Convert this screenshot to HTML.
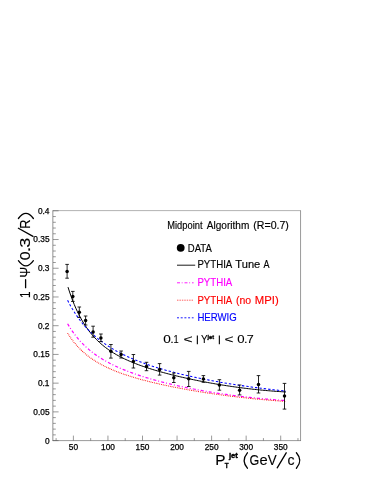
<!DOCTYPE html>
<html><head><meta charset="utf-8"><title>chart</title>
<style>html,body{margin:0;padding:0;background:#fff;}body{width:382px;height:494px;overflow:hidden;font-family:"Liberation Sans",sans-serif;}svg{display:block;will-change:transform;}</style>
</head><body>
<svg width="382" height="494" viewBox="0 0 382 494" font-family="Liberation Sans, sans-serif">
<rect x="0" y="0" width="382" height="494" fill="#fff"/>
<path d="M52.85 210.60000000000002V440.90000000000003" stroke="#555" stroke-width="0.65"/>
<path d="M300.55 210.60000000000002V440.90000000000003" stroke="#555" stroke-width="0.6"/>
<path d="M52.5 210.6H300.85" stroke="#555" stroke-width="0.45"/>
<path d="M52.5 440.6H300.85" stroke="#555" stroke-width="0.6"/>
<path d="M53.0 440.60h5.6M53.0 434.86h2.8M53.0 429.11h2.8M53.0 423.37h2.8M53.0 417.62h2.8M53.0 411.88h5.6M53.0 406.13h2.8M53.0 400.38h2.8M53.0 394.64h2.8M53.0 388.90h2.8M53.0 383.15h5.6M53.0 377.41h2.8M53.0 371.66h2.8M53.0 365.92h2.8M53.0 360.17h2.8M53.0 354.43h5.6M53.0 348.68h2.8M53.0 342.94h2.8M53.0 337.19h2.8M53.0 331.45h2.8M53.0 325.70h5.6M53.0 319.96h2.8M53.0 314.21h2.8M53.0 308.47h2.8M53.0 302.72h2.8M53.0 296.98h5.6M53.0 291.23h2.8M53.0 285.49h2.8M53.0 279.74h2.8M53.0 274.00h2.8M53.0 268.25h5.6M53.0 262.50h2.8M53.0 256.76h2.8M53.0 251.02h2.8M53.0 245.27h2.8M53.0 239.53h5.6M53.0 233.78h2.8M53.0 228.04h2.8M53.0 222.29h2.8M53.0 216.55h2.8M53.0 210.80h5.6M56.12 440.6v-2.5M73.40 440.6v-5.0M90.67 440.6v-2.5M107.95 440.6v-5.0M125.22 440.6v-2.5M142.50 440.6v-5.0M159.78 440.6v-2.5M177.05 440.6v-5.0M194.32 440.6v-2.5M211.60 440.6v-5.0M228.87 440.6v-2.5M246.15 440.6v-5.0M263.43 440.6v-2.5M280.70 440.6v-5.0M297.98 440.6v-2.5" stroke="#555" stroke-width="0.6" fill="none"/>
<g font-size="8.3" fill="#000" stroke="#000" stroke-width="0.25">
<text x="49.5" y="443.50" text-anchor="end">0</text>
<text x="49.5" y="414.77" text-anchor="end">0.05</text>
<text x="49.5" y="386.05" text-anchor="end">0.1</text>
<text x="49.5" y="357.32" text-anchor="end">0.15</text>
<text x="49.5" y="328.60" text-anchor="end">0.2</text>
<text x="49.5" y="299.88" text-anchor="end">0.25</text>
<text x="49.5" y="271.15" text-anchor="end">0.3</text>
<text x="49.5" y="242.43" text-anchor="end">0.35</text>
<text x="49.5" y="213.70" text-anchor="end">0.4</text>
<text x="73.40" y="449.9" text-anchor="middle">50</text>
<text x="107.95" y="449.9" text-anchor="middle">100</text>
<text x="142.50" y="449.9" text-anchor="middle">150</text>
<text x="177.05" y="449.9" text-anchor="middle">200</text>
<text x="211.60" y="449.9" text-anchor="middle">250</text>
<text x="246.15" y="449.9" text-anchor="middle">300</text>
<text x="280.70" y="449.9" text-anchor="middle">350</text>
</g>
<path d="M67.60 323.71 L69.17 326.35 L70.74 328.83 L72.31 331.18 L73.88 333.39 L75.46 335.47 L77.03 337.45 L78.60 339.32 L80.17 341.09 L81.74 342.78 L83.31 344.39 L84.88 345.92 L86.45 347.38 L88.03 348.77 L89.60 350.10 L91.17 351.38 L92.74 352.60 L94.31 353.78 L95.88 354.91 L97.45 355.99 L99.02 357.04 L100.60 358.04 L102.17 359.02 L103.74 359.96 L105.31 360.86 L106.88 361.74 L108.45 362.59 L110.02 363.42 L111.59 364.22 L113.17 364.99 L114.74 365.75 L116.31 366.48 L117.88 367.19 L119.45 367.89 L121.02 368.57 L122.59 369.23 L124.16 369.87 L125.74 370.50 L127.31 371.12 L128.88 371.72 L130.45 372.31 L132.02 372.88 L133.59 373.44 L135.16 374.00 L136.73 374.54 L138.31 375.06 L139.88 375.58 L141.45 376.09 L143.02 376.59 L144.59 377.08 L146.16 377.57 L147.73 378.04 L149.30 378.51 L150.87 378.96 L152.45 379.41 L154.02 379.85 L155.59 380.29 L157.16 380.72 L158.73 381.14 L160.30 381.55 L161.87 381.96 L163.44 382.36 L165.02 382.76 L166.59 383.15 L168.16 383.53 L169.73 383.91 L171.30 384.28 L172.87 384.65 L174.44 385.01 L176.01 385.37 L177.59 385.72 L179.16 386.07 L180.73 386.41 L182.30 386.75 L183.87 387.08 L185.44 387.41 L187.01 387.73 L188.58 388.05 L190.16 388.36 L191.73 388.67 L193.30 388.98 L194.87 389.28 L196.44 389.57 L198.01 389.87 L199.58 390.15 L201.15 390.44 L202.73 390.72 L204.30 390.99 L205.87 391.27 L207.44 391.53 L209.01 391.80 L210.58 392.06 L212.15 392.32 L213.72 392.57 L215.29 392.82 L216.87 393.07 L218.44 393.31 L220.01 393.55 L221.58 393.78 L223.15 394.01 L224.72 394.24 L226.29 394.46 L227.86 394.68 L229.44 394.90 L231.01 395.12 L232.58 395.33 L234.15 395.53 L235.72 395.74 L237.29 395.94 L238.86 396.13 L240.43 396.33 L242.01 396.52 L243.58 396.70 L245.15 396.89 L246.72 397.07 L248.29 397.24 L249.86 397.42 L251.43 397.59 L253.00 397.76 L254.58 397.92 L256.15 398.08 L257.72 398.24 L259.29 398.39 L260.86 398.54 L262.43 398.69 L264.00 398.84 L265.57 398.98 L267.15 399.12 L268.72 399.25 L270.29 399.39 L271.86 399.52 L273.43 399.64 L275.00 399.77 L276.57 399.89 L278.14 400.00 L279.72 400.12 L281.29 400.23 L282.86 400.34 L284.43 400.44 L286.00 400.55" fill="none" stroke="#ff00ff" stroke-width="1.2" stroke-dasharray="3.1 1.9 1.0 2.1"/>
<path d="M67.60 333.14 L69.17 335.59 L70.74 337.90 L72.31 340.06 L73.88 342.09 L75.46 344.00 L77.03 345.80 L78.60 347.50 L80.17 349.11 L81.74 350.64 L83.31 352.08 L84.88 353.46 L86.45 354.76 L88.03 356.00 L89.60 357.19 L91.17 358.32 L92.74 359.40 L94.31 360.43 L95.88 361.42 L97.45 362.37 L99.02 363.29 L100.60 364.16 L102.17 365.01 L103.74 365.82 L105.31 366.60 L106.88 367.36 L108.45 368.09 L110.02 368.80 L111.59 369.49 L113.17 370.15 L114.74 370.80 L116.31 371.42 L117.88 372.03 L119.45 372.63 L121.02 373.20 L122.59 373.76 L124.16 374.31 L125.74 374.85 L127.31 375.37 L128.88 375.88 L130.45 376.37 L132.02 376.86 L133.59 377.34 L135.16 377.80 L136.73 378.26 L138.31 378.71 L139.88 379.15 L141.45 379.58 L143.02 380.01 L144.59 380.42 L146.16 380.83 L147.73 381.23 L149.30 381.63 L150.87 382.02 L152.45 382.40 L154.02 382.78 L155.59 383.15 L157.16 383.51 L158.73 383.87 L160.30 384.23 L161.87 384.58 L163.44 384.92 L165.02 385.26 L166.59 385.60 L168.16 385.93 L169.73 386.25 L171.30 386.57 L172.87 386.89 L174.44 387.20 L176.01 387.51 L177.59 387.82 L179.16 388.12 L180.73 388.42 L182.30 388.71 L183.87 389.00 L185.44 389.29 L187.01 389.57 L188.58 389.85 L190.16 390.12 L191.73 390.39 L193.30 390.66 L194.87 390.93 L196.44 391.19 L198.01 391.45 L199.58 391.71 L201.15 391.96 L202.73 392.21 L204.30 392.46 L205.87 392.70 L207.44 392.94 L209.01 393.18 L210.58 393.41 L212.15 393.64 L213.72 393.87 L215.29 394.10 L216.87 394.32 L218.44 394.54 L220.01 394.76 L221.58 394.97 L223.15 395.18 L224.72 395.39 L226.29 395.60 L227.86 395.80 L229.44 396.00 L231.01 396.20 L232.58 396.39 L234.15 396.58 L235.72 396.77 L237.29 396.96 L238.86 397.14 L240.43 397.32 L242.01 397.50 L243.58 397.68 L245.15 397.85 L246.72 398.02 L248.29 398.19 L249.86 398.35 L251.43 398.52 L253.00 398.68 L254.58 398.83 L256.15 398.99 L257.72 399.14 L259.29 399.29 L260.86 399.44 L262.43 399.58 L264.00 399.72 L265.57 399.86 L267.15 400.00 L268.72 400.13 L270.29 400.26 L271.86 400.39 L273.43 400.52 L275.00 400.64 L276.57 400.76 L278.14 400.88 L279.72 401.00 L281.29 401.11 L282.86 401.22 L284.43 401.33 L286.00 401.44" fill="none" stroke="#ff0000" stroke-width="1.05" stroke-dasharray="0.8 1.0"/>
<path d="M68.00 287.11 L69.57 291.96 L71.14 296.46 L72.71 300.65 L74.27 304.56 L75.84 308.20 L77.41 311.60 L78.98 314.77 L80.55 317.75 L82.12 320.54 L83.68 323.15 L85.25 325.61 L86.82 327.92 L88.39 330.10 L89.96 332.15 L91.53 334.09 L93.09 335.92 L94.66 337.65 L96.23 339.30 L97.80 340.85 L99.37 342.33 L100.94 343.74 L102.50 345.08 L104.07 346.36 L105.64 347.58 L107.21 348.74 L108.78 349.85 L110.35 350.92 L111.91 351.94 L113.48 352.92 L115.05 353.87 L116.62 354.77 L118.19 355.65 L119.76 356.49 L121.32 357.30 L122.89 358.09 L124.46 358.85 L126.03 359.59 L127.60 360.30 L129.17 360.99 L130.73 361.66 L132.30 362.32 L133.87 362.95 L135.44 363.57 L137.01 364.17 L138.58 364.76 L140.14 365.34 L141.71 365.90 L143.28 366.44 L144.85 366.98 L146.42 367.50 L147.99 368.02 L149.55 368.52 L151.12 369.01 L152.69 369.50 L154.26 369.97 L155.83 370.44 L157.40 370.90 L158.96 371.35 L160.53 371.79 L162.10 372.23 L163.67 372.65 L165.24 373.08 L166.81 373.49 L168.37 373.90 L169.94 374.30 L171.51 374.70 L173.08 375.09 L174.65 375.48 L176.22 375.86 L177.78 376.24 L179.35 376.61 L180.92 376.97 L182.49 377.33 L184.06 377.69 L185.63 378.04 L187.19 378.39 L188.76 378.73 L190.33 379.06 L191.90 379.40 L193.47 379.73 L195.04 380.05 L196.60 380.37 L198.17 380.69 L199.74 381.00 L201.31 381.30 L202.88 381.61 L204.45 381.91 L206.01 382.20 L207.58 382.49 L209.15 382.78 L210.72 383.06 L212.29 383.34 L213.86 383.62 L215.42 383.89 L216.99 384.16 L218.56 384.42 L220.13 384.68 L221.70 384.93 L223.27 385.19 L224.83 385.43 L226.40 385.68 L227.97 385.92 L229.54 386.15 L231.11 386.39 L232.68 386.61 L234.24 386.84 L235.81 387.06 L237.38 387.27 L238.95 387.49 L240.52 387.69 L242.09 387.90 L243.65 388.10 L245.22 388.30 L246.79 388.49 L248.36 388.68 L249.93 388.86 L251.50 389.04 L253.06 389.22 L254.63 389.39 L256.20 389.56 L257.77 389.72 L259.34 389.88 L260.91 390.04 L262.47 390.19 L264.04 390.34 L265.61 390.48 L267.18 390.62 L268.75 390.76 L270.32 390.89 L271.88 391.02 L273.45 391.14 L275.02 391.26 L276.59 391.38 L278.16 391.49 L279.73 391.59 L281.29 391.70 L282.86 391.79 L284.43 391.89 L286.00 391.98" fill="none" stroke="#000" stroke-width="1.0"/>
<path d="M67.60 300.26 L69.17 303.28 L70.74 306.14 L72.31 308.84 L73.88 311.40 L75.46 313.84 L77.03 316.15 L78.60 318.35 L80.17 320.44 L81.74 322.44 L83.31 324.35 L84.88 326.17 L86.45 327.92 L88.03 329.59 L89.60 331.19 L91.17 332.72 L92.74 334.19 L94.31 335.61 L95.88 336.97 L97.45 338.29 L99.02 339.55 L100.60 340.77 L102.17 341.95 L103.74 343.08 L105.31 344.18 L106.88 345.24 L108.45 346.27 L110.02 347.27 L111.59 348.23 L113.17 349.17 L114.74 350.08 L116.31 350.96 L117.88 351.82 L119.45 352.65 L121.02 353.46 L122.59 354.25 L124.16 355.02 L125.74 355.77 L127.31 356.49 L128.88 357.21 L130.45 357.90 L132.02 358.58 L133.59 359.24 L135.16 359.89 L136.73 360.52 L138.31 361.14 L139.88 361.75 L141.45 362.34 L143.02 362.92 L144.59 363.49 L146.16 364.05 L147.73 364.59 L149.30 365.13 L150.87 365.65 L152.45 366.17 L154.02 366.67 L155.59 367.17 L157.16 367.66 L158.73 368.14 L160.30 368.61 L161.87 369.07 L163.44 369.52 L165.02 369.97 L166.59 370.41 L168.16 370.84 L169.73 371.27 L171.30 371.69 L172.87 372.10 L174.44 372.51 L176.01 372.91 L177.59 373.30 L179.16 373.69 L180.73 374.07 L182.30 374.45 L183.87 374.82 L185.44 375.19 L187.01 375.55 L188.58 375.91 L190.16 376.26 L191.73 376.60 L193.30 376.95 L194.87 377.28 L196.44 377.62 L198.01 377.94 L199.58 378.27 L201.15 378.59 L202.73 378.90 L204.30 379.21 L205.87 379.52 L207.44 379.83 L209.01 380.13 L210.58 380.42 L212.15 380.71 L213.72 381.00 L215.29 381.29 L216.87 381.57 L218.44 381.85 L220.01 382.12 L221.58 382.40 L223.15 382.66 L224.72 382.93 L226.29 383.19 L227.86 383.45 L229.44 383.71 L231.01 383.96 L232.58 384.21 L234.15 384.45 L235.72 384.70 L237.29 384.94 L238.86 385.18 L240.43 385.41 L242.01 385.64 L243.58 385.87 L245.15 386.10 L246.72 386.33 L248.29 386.55 L249.86 386.77 L251.43 386.98 L253.00 387.20 L254.58 387.41 L256.15 387.62 L257.72 387.82 L259.29 388.03 L260.86 388.23 L262.43 388.43 L264.00 388.62 L265.57 388.82 L267.15 389.01 L268.72 389.20 L270.29 389.39 L271.86 389.57 L273.43 389.76 L275.00 389.94 L276.57 390.11 L278.14 390.29 L279.72 390.46 L281.29 390.64 L282.86 390.81 L284.43 390.97 L286.00 391.14" fill="none" stroke="#0000ff" stroke-width="1.05" stroke-dasharray="2.4 2.0"/>
<path d="M67.10 264.40V278.20M65.30 264.40h3.6M65.30 278.20h3.6M72.80 291.40V301.40M71.00 291.40h3.6M71.00 301.40h3.6M79.30 307.00V317.50M77.50 307.00h3.6M77.50 317.50h3.6M85.60 316.00V325.00M83.80 316.00h3.6M83.80 325.00h3.6M93.10 326.20V337.20M91.30 326.20h3.6M91.30 337.20h3.6M100.90 334.00V341.60M99.10 334.00h3.6M99.10 341.60h3.6M110.90 344.50V358.10M109.10 344.50h3.6M109.10 358.10h3.6M121.10 351.00V358.00M119.30 351.00h3.6M119.30 358.00h3.6M133.40 354.50V368.00M131.60 354.50h3.6M131.60 368.00h3.6M146.50 362.30V370.70M144.70 362.30h3.6M144.70 370.70h3.6M159.60 363.60V375.10M157.80 363.60h3.6M157.80 375.10h3.6M173.80 373.00V382.50M172.00 373.00h3.6M172.00 382.50h3.6M188.70 371.40V386.50M186.90 371.40h3.6M186.90 386.50h3.6M203.40 375.60V382.30M201.60 375.60h3.6M201.60 382.30h3.6M219.40 379.70V390.20M217.60 379.70h3.6M217.60 390.20h3.6M239.60 385.00V394.90M237.80 385.00h3.6M237.80 394.90h3.6M258.50 375.60V393.00M256.70 375.60h3.6M256.70 393.00h3.6M284.50 383.40V409.10M282.70 383.40h3.6M282.70 409.10h3.6" stroke="#000" stroke-width="0.85" fill="none"/>
<circle cx="67.10" cy="271.40" r="1.75" fill="#000"/>
<circle cx="72.80" cy="296.40" r="1.75" fill="#000"/>
<circle cx="79.30" cy="312.30" r="1.75" fill="#000"/>
<circle cx="85.60" cy="320.40" r="1.75" fill="#000"/>
<circle cx="93.10" cy="331.90" r="1.75" fill="#000"/>
<circle cx="100.90" cy="338.00" r="1.75" fill="#000"/>
<circle cx="110.90" cy="351.30" r="1.75" fill="#000"/>
<circle cx="121.10" cy="354.50" r="1.75" fill="#000"/>
<circle cx="133.40" cy="361.50" r="1.75" fill="#000"/>
<circle cx="146.50" cy="366.50" r="1.75" fill="#000"/>
<circle cx="159.60" cy="369.40" r="1.75" fill="#000"/>
<circle cx="173.80" cy="377.70" r="1.75" fill="#000"/>
<circle cx="188.70" cy="378.70" r="1.75" fill="#000"/>
<circle cx="203.40" cy="379.00" r="1.75" fill="#000"/>
<circle cx="219.40" cy="384.90" r="1.75" fill="#000"/>
<circle cx="239.60" cy="390.30" r="1.75" fill="#000"/>
<circle cx="258.50" cy="384.40" r="1.75" fill="#000"/>
<circle cx="284.50" cy="396.10" r="1.75" fill="#000"/>
<g font-size="10.2">
<text x="167.3" y="228.8" font-size="10.2" fill="#000" stroke="#000" stroke-width="0.15" textLength="35.2" lengthAdjust="spacingAndGlyphs">Midpoint</text>
<text x="206.8" y="228.8" font-size="10.2" fill="#000" stroke="#000" stroke-width="0.15" textLength="42.5" lengthAdjust="spacingAndGlyphs">Algorithm</text>
<text x="253.3" y="228.8" font-size="10.2" fill="#000" stroke="#000" stroke-width="0.15" textLength="35.6" lengthAdjust="spacingAndGlyphs">(R=0.7)</text>
<circle cx="180.7" cy="247.8" r="3.9" fill="#000"/>
<text x="187.8" y="251.7" font-size="10.8" fill="#000" stroke="#000" stroke-width="0.15" textLength="24" lengthAdjust="spacingAndGlyphs">DATA</text>
<path d="M177 265.2H195.2" stroke="#000" stroke-width="0.9"/>
<text x="197.4" y="268.3" font-size="10.8" fill="#000" stroke="#000" stroke-width="0.15" textLength="34.9" lengthAdjust="spacingAndGlyphs">PYTHIA</text>
<text x="235.3" y="268.3" font-size="10.8" fill="#000" stroke="#000" stroke-width="0.15" textLength="25.0" lengthAdjust="spacingAndGlyphs">Tune</text>
<text x="263.6" y="268.3" font-size="10.8" fill="#000" stroke="#000" stroke-width="0.15" textLength="6.0" lengthAdjust="spacingAndGlyphs">A</text>
<path d="M177 282.8H193.6" stroke="#ff00ff" stroke-width="0.9" stroke-dasharray="3 1.7 0.9 1.9"/>
<text x="197.4" y="286.0" font-size="10.8" fill="#ff00ff" stroke="#ff00ff" stroke-width="0.15" textLength="34.9" lengthAdjust="spacingAndGlyphs">PYTHIA</text>
<path d="M177 300.2H193.6" stroke="#ff0000" stroke-width="0.9" stroke-dasharray="0.7 1.0"/>
<text x="197.4" y="303.9" font-size="10.8" fill="#ff0000" stroke="#ff0000" stroke-width="0.15" textLength="34.9" lengthAdjust="spacingAndGlyphs">PYTHIA</text>
<text x="235.9" y="303.9" font-size="10.8" fill="#ff0000" stroke="#ff0000" stroke-width="0.15" textLength="15.2" lengthAdjust="spacingAndGlyphs">(no</text>
<text x="254.8" y="303.9" font-size="10.8" fill="#ff0000" stroke="#ff0000" stroke-width="0.15" textLength="23.9" lengthAdjust="spacingAndGlyphs">MPI)</text>
<path d="M177 317.8H193.6" stroke="#0000ff" stroke-width="0.9" stroke-dasharray="2.0 1.7"/>
<text x="197.4" y="321.2" font-size="10.8" fill="#0000ff" stroke="#0000ff" stroke-width="0.15" textLength="39.4" lengthAdjust="spacingAndGlyphs">HERWIG</text>
</g>
<g>
<text transform="translate(163.17 343.30) scale(1.271 1)" font-size="10.7" fill="#000" stroke="#000" stroke-width="0.1">0</text>
<text transform="translate(170.25 343.30) scale(1.178 1)" font-size="10.7" fill="#000" stroke="#000" stroke-width="0.1">.</text>
<text transform="translate(173.39 343.30) scale(0.867 1)" font-size="10.7" fill="#000" stroke="#000" stroke-width="0.1">1</text>
<text transform="translate(183.44 343.30) scale(1.443 1)" font-size="10.7" fill="#000" stroke="#000" stroke-width="0.1">&lt;</text>
<path d="M197.35 335.5V344.3M219.35 335.5V344.3" stroke="#000" stroke-width="1.1"/>
<text transform="translate(200.98 343.30) scale(0.930 1)" font-size="10.7" fill="#000" stroke="#000" stroke-width="0.1">Y</text>
<text x="207.6" y="339.0" font-size="5.2" font-weight="bold" stroke="#000" stroke-width="0.3" textLength="6.4" lengthAdjust="spacingAndGlyphs">jet</text>
<text transform="translate(224.55 343.30) scale(1.423 1)" font-size="10.7" fill="#000" stroke="#000" stroke-width="0.1">&lt;</text>
<text transform="translate(237.19 343.30) scale(1.232 1)" font-size="10.7" fill="#000" stroke="#000" stroke-width="0.1">0</text>
<text transform="translate(244.05 343.30) scale(1.178 1)" font-size="10.7" fill="#000" stroke="#000" stroke-width="0.1">.</text>
<text transform="translate(246.86 343.30) scale(1.172 1)" font-size="10.7" fill="#000" stroke="#000" stroke-width="0.1">7</text>
</g>
<g>
<text transform="translate(215.24 464.70) scale(1.007 1)" font-size="15.3" fill="#000" stroke="#000" stroke-width="0.12">P</text>
<text transform="translate(224.73 467.70) scale(0.898 1)" font-size="7.0" font-weight="bold" fill="#000" stroke="#000" stroke-width="0.35">T</text>
<text x="228.9" y="458.2" font-size="7" font-weight="bold" stroke="#000" stroke-width="0.4" textLength="8.9" lengthAdjust="spacingAndGlyphs">jet</text>
<path d="M247.40 452.80Q241.00 460.50 247.40 468.20" fill="none" stroke="#000" stroke-width="1.3" stroke-linecap="round"/>
<text transform="translate(249.47 464.70) scale(0.821 1)" font-size="15.3" fill="#000" stroke="#000" stroke-width="0.12">G</text>
<text transform="translate(259.58 464.70) scale(0.961 1)" font-size="15.3" fill="#000" stroke="#000" stroke-width="0.12">e</text>
<text transform="translate(267.84 464.70) scale(0.874 1)" font-size="15.3" fill="#000" stroke="#000" stroke-width="0.12">V</text>
<path d="M277.2 467.8L286.2 452.8" stroke="#000" stroke-width="1.3" stroke-linecap="round"/>
<text transform="translate(287.40 464.70) scale(0.925 1)" font-size="15.3" fill="#000" stroke="#000" stroke-width="0.12">c</text>
<path d="M296.40 452.80Q303.20 460.50 296.40 468.20" fill="none" stroke="#000" stroke-width="1.3" stroke-linecap="round"/>
</g>
<g transform="translate(30.2 297.1) rotate(-90)">
<text transform="translate(-0.90 0.00) scale(0.768 1)" font-size="15.4" fill="#000" stroke="#000" stroke-width="0.12">1</text>
<path d="M9.4 -4.6H17.4" stroke="#000" stroke-width="1.3" stroke-linecap="round"/>
<text transform="translate(19.37 0.00) scale(0.852 1)" font-size="15.4" fill="#000" stroke="#000" stroke-width="0.12">Ψ</text>
<path d="M36.40 -11.80Q26.00 -4.30 36.40 3.20" fill="none" stroke="#000" stroke-width="1.3" stroke-linecap="round"/>
<text transform="translate(36.88 0.00) scale(1.032 1)" font-size="15.4" fill="#000" stroke="#000" stroke-width="0.12">0</text>
<text transform="translate(44.68 0.00) scale(1.364 1)" font-size="15.4" fill="#000" stroke="#000" stroke-width="0.12">.</text>
<text transform="translate(49.41 0.00) scale(1.178 1)" font-size="15.4" fill="#000" stroke="#000" stroke-width="0.12">3</text>
<path d="M60.7 2.8L68.8 -11.8" stroke="#000" stroke-width="1.3" stroke-linecap="round"/>
<text transform="translate(68.25 0.00) scale(0.831 1)" font-size="15.4" fill="#000" stroke="#000" stroke-width="0.12">R</text>
<path d="M78.60 -11.80Q89.00 -4.30 78.60 3.20" fill="none" stroke="#000" stroke-width="1.3" stroke-linecap="round"/>
</g>
</svg>
</body></html>
